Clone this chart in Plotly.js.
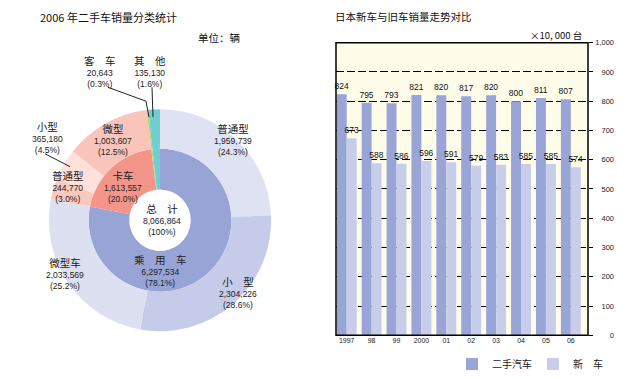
<!DOCTYPE html>
<html><head><meta charset="utf-8">
<script src="https://cdn.plot.ly/plotly-3.0.1.min.js"></script>
<style>html,body{margin:0;padding:0;background:#fff}#chart{width:634px;height:379px}</style>
</head><body><div id="chart"></div>
<script>
// ---------- data: left donut (2006 used-car sales by class) ----------
const innerKeys   = ['乘用车','卡车','客车','其他'];
const innerNames  = ['乘　用　车','卡车','客　车','其　他'];
const innerValues = [6297534, 1613557, 20643, 135130];
const innerPct    = ['78.1%','20.0%','0.3%','1.6%'];

const outerKeys   = ['乘用车-普通型','乘用车-小型','乘用车-微型车','卡车-普通型','卡车-小型','卡车-微型','客车','其他'];
const outerNames  = ['普通型','小　型','微型车','普通型','小型','微型','',''];
const outerValues = [1959739, 2304226, 2033569, 244770, 365180, 1003607, 20643, 135130];
const outerPct    = ['24.3%','28.6%','25.2%','3.0%','4.5%','12.5%','0.3%','1.6%'];

const totalName = '总　计';
const totalValue = 8066864;
const totalPct = '100%';

// ---------- data: right bars (Japan new vs used car sales, x10,000) ----------
const years    = ['1997','98','99','2000','01','02','03','04','05','06'];
const usedCars = [824, 795, 793, 821, 820, 817, 820, 800, 811, 807];
const newCars  = [673, 588, 586, 596, 591, 579, 583, 585, 585, 574];
const seriesNames = ['二手汽车','新　车'];

// ---------- styling ----------
const W = 634, H = 379;
const px = x => x / W;
const py = y => (H - y) / H;
const CJK = 'Noto Sans CJK SC';
const NUM = 'Liberation Sans';

const innerColors = ['#99A4D6','#F39588','#B9D46A','#6FCFD0'];
const outerColors = ['#DFE2F2','#C6CBE9','#DDE0F1','#F9C9BE','#FDE1DA','#F9C5BA','#B9D46A','#6FCFD0'];
const usedColor = '#98A5D6', newColor = '#C8CDEA';

// donut geometry (pixels)
const cx = 160, cy = 222, rOuter = 112, rInner = 72, rHole = 31;
const dom = r => ({x:[px(cx-r), px(cx+r)], y:[py(cy+r), py(cy-r)]});

const fmt = v => String(v).replace(/\B(?=(\d{3})+(?!\d))/g, ',');
const lbl = (name, value, pct) =>
  `<span style="font-family:'${CJK}';font-size:10.5px">${name}</span><br>${fmt(value)}<br>(${pct})`;

const traces = [
  {type:'pie', labels: innerKeys, values: innerValues, sort:false, direction:'clockwise', rotation:0,
   hole: rHole/rInner, domain: dom(rInner), textinfo:'none', hoverinfo:'skip', showlegend:false,
   marker:{colors: innerColors, line:{width:0}}},
  {type:'pie', labels: outerKeys, values: outerValues, sort:false, direction:'clockwise', rotation:0,
   hole: rInner/rOuter, domain: dom(rOuter), textinfo:'none', hoverinfo:'skip', showlegend:false,
   marker:{colors: outerColors, line:{width:0}}},
  {type:'bar', name: seriesNames[0], x: years, y: usedCars, xaxis:'x2', yaxis:'y2',
   marker:{color: usedColor}, text: usedCars.map(String), textposition:'outside', cliponaxis:false,
   constraintext:'none', textfont:{family:NUM, size:8.5, color:'#111'}, hoverinfo:'skip'},
  {type:'bar', name: seriesNames[1], x: years, y: newCars, xaxis:'x2', yaxis:'y2',
   marker:{color: newColor}, text: newCars.map(String), textposition:'outside', cliponaxis:false,
   constraintext:'none', textfont:{family:NUM, size:8.5, color:'#111'}, hoverinfo:'skip'},
  {type:'scatter', mode:'none', x: years, y: usedCars, xaxis:'x2', yaxis:'y3', showlegend:false, hoverinfo:'skip'}
];

// label placements for the donut (pixel centres)
const innerPos = [[160,272],[123,187],[100,72],[150,72]];
const outerPos = [[233,140],[238,294],[65,275],[68,187],[47,138],[113,140],null,null];

const annotations = [];
const addText = (x, y, text, extra) => annotations.push(Object.assign({
  x: px(x), y: py(y), xref:'paper', yref:'paper', text, showarrow:false,
  xanchor:'center', yanchor:'middle', font:{family:NUM, size:8.5, color:'#222'}}, extra||{}));

innerKeys.forEach((k,i) => addText(innerPos[i][0], innerPos[i][1], lbl(innerNames[i], innerValues[i], innerPct[i])));
outerKeys.forEach((k,i) => { if (outerPos[i]) addText(outerPos[i][0], outerPos[i][1], lbl(outerNames[i], outerValues[i], outerPct[i])); });
addText(162, 221, lbl(totalName, totalValue, totalPct));

// titles & units
addText(38, 17, '2006 年二手车销量分类统计', {xanchor:'left', font:{family:CJK, size:11, color:'#111'}});
addText(196, 38, '单位：辆', {xanchor:'left', font:{family:CJK, size:10.5, color:'#111'}});
addText(333, 17, '日本新车与旧车销量走势对比', {xanchor:'left', font:{family:CJK, size:10.5, color:'#111'}});
addText(584, 35, '×10, 000 台', {xanchor:'right', font:{family:CJK, size:9.5, color:'#111'}});

const seg = (x0,y0,x1,y1) => ({type:'line', xref:'paper', yref:'paper', x0:px(x0), y0:py(y0), x1:px(x1), y1:py(y1), line:{color:'#222', width:1}});
const shapes = [
  seg(108,88,146,102), seg(146,102,149,118),
  seg(152,88,153,118),
  seg(45,155,70,168),
  {type:'rect', xref:'x2 domain', yref:'y2 domain', x0:0, x1:1, y0:0, y1:1, line:{color:'#000', width:1.5}, layer:'above'}
];

const layout = {
  width: W, height: H, margin:{l:0,r:0,t:0,b:0}, paper_bgcolor:'#fff', plot_bgcolor:'#FFFDEA',
  barmode:'group', bargap:0.2, bargroupgap:0,
  showlegend:true,
  legend:{orientation:'h', x: px(452), y: py(367), xanchor:'left', yanchor:'middle',
          font:{family:CJK, size:10, color:'#222'}, itemwidth:30, entrywidth:36, bgcolor:'rgba(0,0,0,0)'},
  xaxis2:{domain:[px(336), px(588)], anchor:'y2', type:'category', range:[-0.43, 9.69],
          showgrid:false, zeroline:false, showline:false, ticks:'',
          tickfont:{family:NUM, size:7, color:'#222'}},
  yaxis2:{domain:[py(338), py(43)], anchor:'x2', side:'right', range:[0,1000], dtick:100,
          showgrid:true, gridcolor:'#000', gridwidth:1, griddash:'8px,3px', zeroline:false,
          showline:false, ticks:'outside', ticklen:4, tickcolor:'#000', showticklabels:false},
  yaxis3:{overlaying:'y2', anchor:'free', position: px(614), side:'left', range:[0,1000], dtick:100,
          showgrid:false, zeroline:false, showline:false, ticks:'', tickformat:',d',
          tickfont:{family:NUM, size:7.5, color:'#222'}},
  annotations, shapes
};

Plotly.newPlot('chart', traces, layout, {staticPlot:true, displayModeBar:false});
</script></body></html>
